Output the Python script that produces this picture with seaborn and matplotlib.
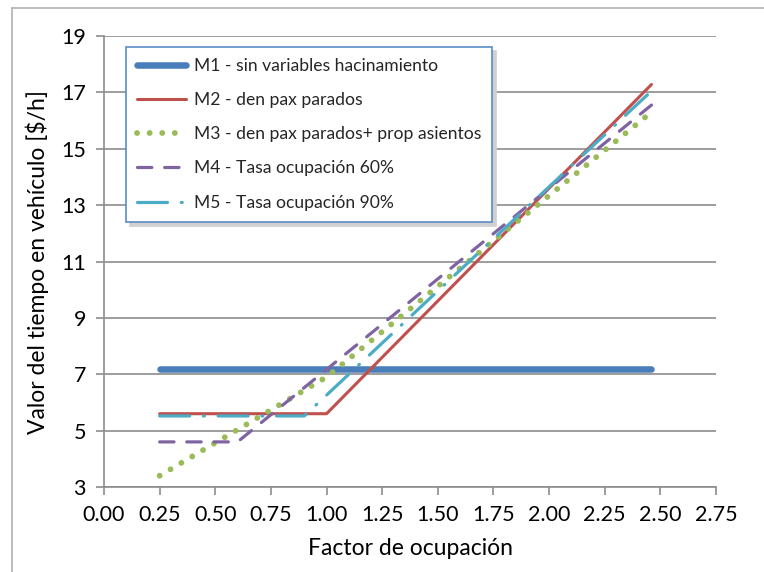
import matplotlib
matplotlib.use("Agg")
import matplotlib.pyplot as plt
from matplotlib.lines import Line2D
import seaborn as sns
import numpy as np

# ---- data ----
x_m1 = [0.25, 2.46]
y_m1 = [7.2, 7.2]
x_m2 = [0.25, 1.0, 2.46]
y_m2 = [5.6, 5.6, 17.28]
x_m3 = [0.25, 1.0, 2.46]
y_m3 = [3.4, 6.9, 16.3]
x_m4 = [0.25, 0.6, 2.46]
y_m4 = [4.6, 4.6, 16.55]
x_m5 = [0.25, 0.9, 2.46]
y_m5 = [5.52, 5.52, 17.05]

labels = ["M1 - sin variables hacinamiento",
          "M2 - den pax parados",
          "M3 - den pax parados+ prop asientos",
          "M4 - Tasa ocupación 60%",
          "M5 - Tasa ocupación 90%"]
x_ticks = [0.00, 0.25, 0.50, 0.75, 1.00, 1.25, 1.50, 1.75, 2.00, 2.25, 2.50, 2.75]
y_ticks = [3, 5, 7, 9, 11, 13, 15, 17, 19]
x_label = "Factor de ocupación"
y_label = "Valor del tiempo en vehículo [$/h]"

sns.set_theme(style="white")
plt.rcParams['font.family'] = ['Lato', 'DejaVu Sans']

fig = plt.figure(figsize=(7.64, 5.72), dpi=100)
W, H = 764, 572
ax = fig.add_axes([104 / W, (H - 487) / H, 612 / W, 451 / H])

series = [
    (x_m1, y_m1, "#4A7EBB", 4.7, "-", labels[0]),
    (x_m2, y_m2, "#C0504D", 2.2, "-", labels[1]),
    (x_m3, y_m3, "#9BBB59", 4.2, (0, (0.01, 2.15)), labels[2]),
    (x_m4, y_m4, "#8064A2", 2.3, (0, (4.5, 4.0)), labels[3]),
    (x_m5, y_m5, "#4BACC6", 2.3, (0, (9.4, 4.3, 0.3, 4.3)), labels[4]),
]
for xs, ys, c, lw, ls, lab in series:
    sns.lineplot(x=xs, y=ys, ax=ax, color=c, linewidth=lw, linestyle=ls,
                 label=lab, sort=False, estimator=None,
                 dash_capstyle='round', solid_capstyle='round')

ax.set_xlim(0, 2.75)
ax.set_ylim(3, 19)
ax.set_xticks(x_ticks)
ax.set_xticklabels([f"{v:.2f}" for v in x_ticks])
ax.set_yticks(y_ticks)
ax.set_yticklabels([str(v) for v in y_ticks])

gray = "#8C8C8C"
ax.grid(axis='y', color=gray, linewidth=1.2)
ax.grid(axis='x', visible=False)
ax.set_axisbelow(True)
for s in ['top', 'right']:
    ax.spines[s].set_visible(False)
for s in ['left', 'bottom']:
    ax.spines[s].set_color(gray)
    ax.spines[s].set_linewidth(1.2)
ax.tick_params(axis='both', which='major', direction='out', length=6,
               width=1.2, color=gray, labelsize=15.5, labelcolor='#000000')
ax.tick_params(axis='x', bottom=True, pad=7)
ax.tick_params(axis='y', left=True, pad=7)

ax.set_xlabel(x_label, fontsize=16.5, color='#000000', labelpad=9)
ax.set_ylabel(y_label, fontsize=16.5, color='#000000', labelpad=9)

leg = ax.legend(loc='upper left', bbox_to_anchor=((126 - 104) / 612, (487 - 47) / 451),
                borderaxespad=0, fontsize=12.6, handlelength=2.8, handletextpad=0.45,
                labelspacing=1.04, borderpad=0.62, fancybox=False, frameon=True,
                shadow={'ox': 3, 'oy': -3, 'color': '#d0d0d0', 'alpha': 1.0})
leg.get_frame().set_edgecolor('#5B8CC8')
leg.get_frame().set_linewidth(1.2)
leg.get_frame().set_facecolor('white')
leg.get_frame().set_alpha(1.0)

# chart area border (top and left)
fig.add_artist(Line2D([12 / W, 1.0], [1 - 8 / H, 1 - 8 / H], transform=fig.transFigure,
                      color='#B0B0B0', linewidth=1.2))
fig.add_artist(Line2D([12 / W, 12 / W], [0.0, 1 - 8 / H], transform=fig.transFigure,
                      color='#B0B0B0', linewidth=1.2))

fig.savefig("out.png", dpi=100, facecolor='white')
